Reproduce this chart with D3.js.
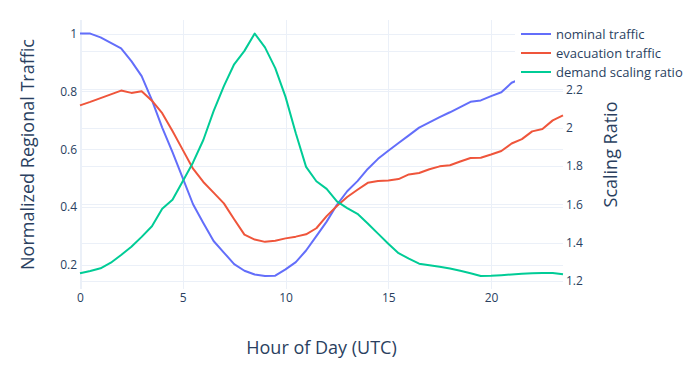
<!DOCTYPE html>
<html>
<head>
<meta charset="utf-8">
<script src="https://cdn.jsdelivr.net/npm/d3@7"></script>
<style>
  body { margin: 0; background: white; }
  text { font-family: "Open Sans", verdana, arial, sans-serif; fill: #2a3f5f; }
</style>
</head>
<body>
<div id="container"></div>
<script>
let hours = [0, 0.5, 1, 1.5, 2, 2.5, 3, 3.5, 4, 4.5, 5, 5.5, 6, 6.5, 7, 7.5, 8, 8.5, 9, 9.5,
  10, 10.5, 11, 11.5, 12, 12.5, 13, 13.5, 14, 14.5, 15, 15.5, 16, 16.5, 17, 17.5, 18, 18.5, 19, 19.5,
  20, 20.5, 21, 21.5, 22, 22.5, 23, 23.5];

let nominal = [1.0, 1.0, 0.987, 0.968, 0.949, 0.905, 0.853, 0.77, 0.675, 0.59, 0.50, 0.41, 0.345, 0.283,
  0.243, 0.203, 0.18, 0.167, 0.162, 0.163, 0.185, 0.21, 0.25, 0.30, 0.35, 0.408, 0.455, 0.49, 0.532,
  0.567, 0.595, 0.622, 0.648, 0.675, 0.693, 0.711, 0.728, 0.746, 0.764, 0.769, 0.784, 0.797, 0.83,
  0.845, 0.86, 0.87, 0.88, 0.89];

let evacuation = [0.752, 0.764, 0.777, 0.79, 0.803, 0.795, 0.801, 0.768, 0.725, 0.663, 0.598, 0.533,
  0.487, 0.45, 0.413, 0.358, 0.305, 0.288, 0.28, 0.284, 0.292, 0.298, 0.306, 0.327, 0.369, 0.404,
  0.435, 0.46, 0.484, 0.49, 0.492, 0.497, 0.513, 0.518, 0.531, 0.541, 0.545, 0.558, 0.57, 0.571,
  0.582, 0.594, 0.62, 0.635, 0.662, 0.67, 0.70, 0.717];

let ratio = [1.240, 1.252, 1.266, 1.295, 1.335, 1.378, 1.43, 1.485, 1.577, 1.623, 1.72, 1.818, 1.935,
  2.086, 2.216, 2.33, 2.40, 2.49, 2.418, 2.31, 2.16, 1.97, 1.795, 1.72, 1.68, 1.615, 1.58, 1.55,
  1.50, 1.447, 1.394, 1.345, 1.316, 1.29, 1.282, 1.274, 1.265, 1.253, 1.24, 1.226, 1.227, 1.23,
  1.234, 1.237, 1.24, 1.242, 1.242, 1.235];

let xTicks = [0, 5, 10, 15, 20];
let leftTicks = [0.2, 0.4, 0.6, 0.8, 1];
let rightGrid = [1.2, 1.4, 1.6, 1.8, 2, 2.2, 2.4];
// the 2.4 label sits behind the legend, so only these are written
let rightTicks = [1.2, 1.4, 1.6, 1.8, 2, 2.2];

let seriesNames = ["nominal traffic", "evacuation traffic", "demand scaling ratio"];
let seriesColors = ["#636efa", "#EF553B", "#00cc96"];

let w = 700;
let h = 370;
let plotLeft = 80, plotRight = 563, plotTop = 20, plotBottom = 289;
let gridColor = "#EBF0F8";

let viz = d3.select("#container")
  .append("svg")
    .attr("width", w)
    .attr("height", h)
    .style("background-color", "white")
;

let xScale = d3.scaleLinear().domain([0, 23.5]).range([plotLeft, plotRight]);
let yLeft = d3.scaleLinear().domain([0.117, 1.047]).range([plotBottom, plotTop]);
let yRight = d3.scaleLinear().domain([1.158, 2.561]).range([plotBottom, plotTop]);

// gridlines
let xGrid = viz.append("g")
    .attr("transform", "translate(0," + plotBottom + ")")
    .call(d3.axisBottom(xScale).tickValues(xTicks).tickSize(-(plotBottom - plotTop)).tickFormat(""));
let lGrid = viz.append("g")
    .attr("transform", "translate(" + plotLeft + ",0)")
    .call(d3.axisLeft(yLeft).tickValues(leftTicks).tickSize(-(plotRight - plotLeft)).tickFormat(""));
let rGrid = viz.append("g")
    .attr("transform", "translate(" + plotRight + ",0)")
    .call(d3.axisRight(yRight).tickValues(rightGrid).tickSize(-(plotRight - plotLeft)).tickFormat(""));

[xGrid, lGrid, rGrid].forEach(function(g){
  g.select(".domain").remove();
  g.selectAll("line").attr("stroke", gridColor).attr("shape-rendering", "crispEdges");
});
// zero line on x
xGrid.selectAll(".tick").filter(function(d){ return d === 0; }).select("line").attr("stroke-width", 2);

// tick labels
let xAxis = viz.append("g")
    .attr("transform", "translate(0," + plotBottom + ")")
    .call(d3.axisBottom(xScale).tickValues(xTicks).tickSize(0).tickPadding(4).tickFormat(d3.format("d")));
let lAxis = viz.append("g")
    .attr("transform", "translate(" + plotLeft + ",0)")
    .call(d3.axisLeft(yLeft).tickValues(leftTicks).tickSize(0).tickPadding(3).tickFormat(d3.format("~g")));
let rAxis = viz.append("g")
    .attr("transform", "translate(" + plotRight + ",0)")
    .call(d3.axisRight(yRight).tickValues(rightTicks).tickSize(0).tickPadding(3).tickFormat(d3.format("~g")));

[xAxis, lAxis, rAxis].forEach(function(g){
  g.select(".domain").remove();
  g.selectAll("text")
    .style("font-family", "'Open Sans', verdana, arial, sans-serif")
    .style("font-size", "12px")
    .attr("fill", "#2a3f5f");
});

// lines
function lineFor(values, scale){
  return d3.line()
    .x(function(d, i){ return xScale(hours[i]); })
    .y(function(d){ return scale(d); })(values);
}

let allSeries = [
  { values: nominal, scale: yLeft },
  { values: evacuation, scale: yLeft },
  { values: ratio, scale: yRight }
];

viz.selectAll(".trace").data(allSeries).enter()
  .append("path")
    .classed("trace", true)
    .attr("d", function(d){ return lineFor(d.values, d.scale); })
    .attr("fill", "none")
    .attr("stroke", function(d, i){ return seriesColors[i]; })
    .attr("stroke-width", 2)
    .attr("stroke-linejoin", "round")
;

// axis titles
viz.append("text")
    .text("Hour of Day (UTC)")
    .attr("x", (plotLeft + plotRight) / 2)
    .attr("y", 354)
    .attr("text-anchor", "middle")
    .style("font-size", "18px")
;

viz.append("text")
    .text("Normalized Regional Traffic")
    .attr("text-anchor", "middle")
    .attr("transform", "translate(34," + (plotTop + plotBottom) / 2 + ") rotate(-90)")
    .style("font-size", "18px")
;

viz.append("text")
    .text("Scaling Ratio")
    .attr("text-anchor", "middle")
    .attr("transform", "translate(617," + (plotTop + plotBottom) / 2 + ") rotate(-90)")
    .style("font-size", "18px")
;

// legend
let legend = viz.append("g");
legend.append("rect")
    .attr("x", 515)
    .attr("y", 21)
    .attr("width", w - 515)
    .attr("height", 64)
    .attr("fill", "white");

let items = legend.selectAll(".item").data(seriesNames).enter()
  .append("g")
    .classed("item", true)
    .attr("transform", function(d, i){ return "translate(516," + (34 + i * 19) + ")"; });

items.append("line")
    .attr("x1", 5)
    .attr("x2", 35)
    .attr("stroke", function(d, i){ return seriesColors[i]; })
    .attr("stroke-width", 2);

items.append("text")
    .text(function(d){ return d; })
    .attr("x", 40)
    .attr("dy", "0.35em")
    .style("font-size", "13px");
</script>
</body>
</html>
